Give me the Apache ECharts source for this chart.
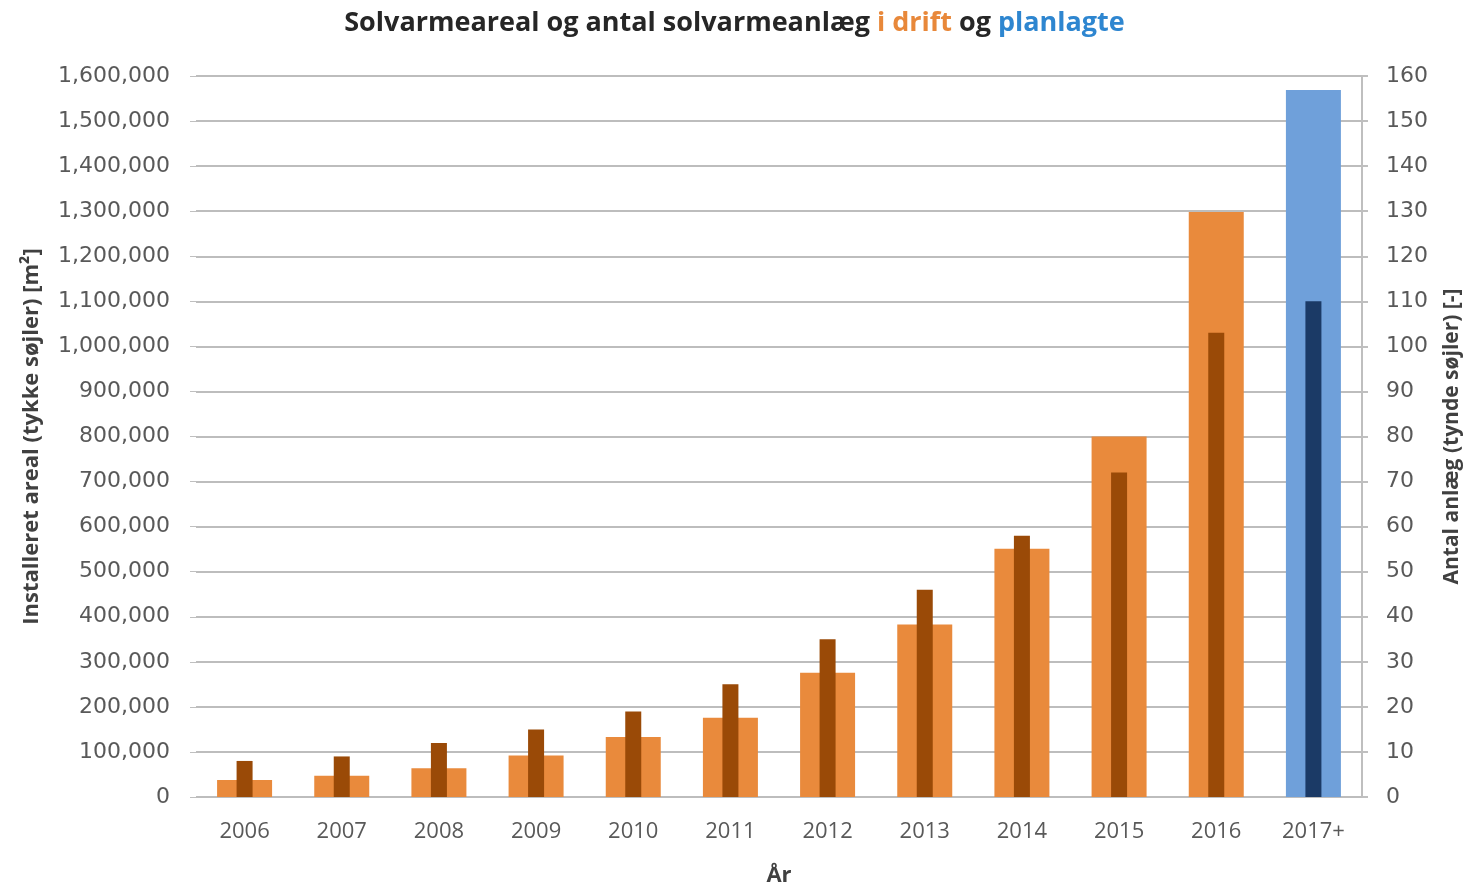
<!DOCTYPE html>
<html>
<head>
<meta charset="utf-8">
<script src="https://cdn.jsdelivr.net/npm/echarts@6/dist/echarts.min.js"></script>
<style>
  html, body { margin: 0; padding: 0; background: #fff; }
  #chart { width: 1469px; height: 885px; }
</style>
</head>
<body>
<div id="chart"></div>
<script>
// data
var years = ["2006", "2007", "2008", "2009", "2010", "2011", "2012", "2013", "2014", "2015", "2016", "2017+"];
var areal = [38000, 47000, 64000, 92000, 133000, 176000, 276000, 383000, 551000, 800000, 1298000, 1569000];
var anlaeg = [8, 9, 12, 15, 19, 25, 35, 46, 58, 72, 103, 110];
var plannedIdx = 11; // 2017+ is planned

var orange = "#E98A3C";
var brown = "#9A4A07";
var lightBlue = "#6FA0DA";
var navy = "#1B3A66";
var txt = "#595959";

var chart = echarts.init(document.getElementById("chart"));

chart.setOption({
  animation: false,
  title: {
    text: "{k|Solvarmeareal og antal solvarmeanlæg }{o|i drift}{k| og }{b|planlagte}",
    left: "center",
    top: 5,
    textStyle: {
      rich: {
        k: { fontFamily: "Open Sans", fontWeight: "bold", fontSize: 27, color: "#262626" },
        o: { fontFamily: "Open Sans", fontWeight: "bold", fontSize: 27, color: "#E8883A" },
        b: { fontFamily: "Open Sans", fontWeight: "bold", fontSize: 27, color: "#2E86D0" }
      }
    }
  },
  grid: { left: 196, right: 107, top: 76, bottom: 88, containLabel: false, outerBoundsMode: "none" },
  xAxis: [
    {
      type: "category",
      data: years,
      name: "År",
      nameLocation: "middle",
      nameGap: 68,
      nameTextStyle: { fontFamily: "Open Sans", fontWeight: "bold", fontSize: 22, color: "#404040" },
      axisLine: { show: false },
      axisTick: { show: false },
      axisLabel: { fontFamily: "Open Sans", fontSize: 22, color: txt, margin: 24 }
    },
    {
      type: "category",
      data: years,
      show: false
    }
  ],
  yAxis: [
    {
      type: "value",
      min: 0,
      max: 1600000,
      interval: 100000,
      name: "Installeret areal (tykke søjler) [m²]",
      nameLocation: "middle",
      nameGap: 153,
      nameTextStyle: { fontFamily: "Open Sans", fontWeight: "bold", fontSize: 22, color: "#404040" },
      axisLine: { show: false },
      axisTick: { show: true, length: 6, lineStyle: { color: "#BFBFBF" } },
      axisLabel: {
        fontFamily: "DejaVu Sans",
        fontSize: 22,
        color: txt,
        margin: 26,
        formatter: function (v) { return v.toLocaleString("en-US"); }
      },
      splitLine: { lineStyle: { color: "#BDBDBD", width: 2 } }
    },
    {
      type: "value",
      min: 0,
      max: 160,
      interval: 10,
      position: "right",
      name: "Antal anlæg (tynde søjler) [-]",
      nameLocation: "middle",
      nameGap: 80,
      nameRotate: 90,
      nameTextStyle: { fontFamily: "Open Sans", fontWeight: "bold", fontSize: 21, color: "#404040" },
      axisLine: { show: true, lineStyle: { color: "#BFBFBF", width: 2 } },
      axisTick: { show: true, length: 6, lineStyle: { color: "#BFBFBF", width: 2 } },
      axisLabel: { fontFamily: "DejaVu Sans", fontSize: 22, color: txt, margin: 24 },
      splitLine: { show: false }
    }
  ],
  series: [
    {
      name: "Installeret areal",
      type: "bar",
      xAxisIndex: 0,
      yAxisIndex: 0,
      barWidth: 55,
      data: areal.map(function (v, i) {
        return { value: v, itemStyle: { color: i === plannedIdx ? lightBlue : orange } };
      })
    },
    {
      name: "Antal anlæg",
      type: "bar",
      xAxisIndex: 1,
      yAxisIndex: 1,
      barWidth: 16,
      data: anlaeg.map(function (v, i) {
        return { value: v, itemStyle: { color: i === plannedIdx ? navy : brown } };
      })
    }
  ]
});
</script>
</body>
</html>
